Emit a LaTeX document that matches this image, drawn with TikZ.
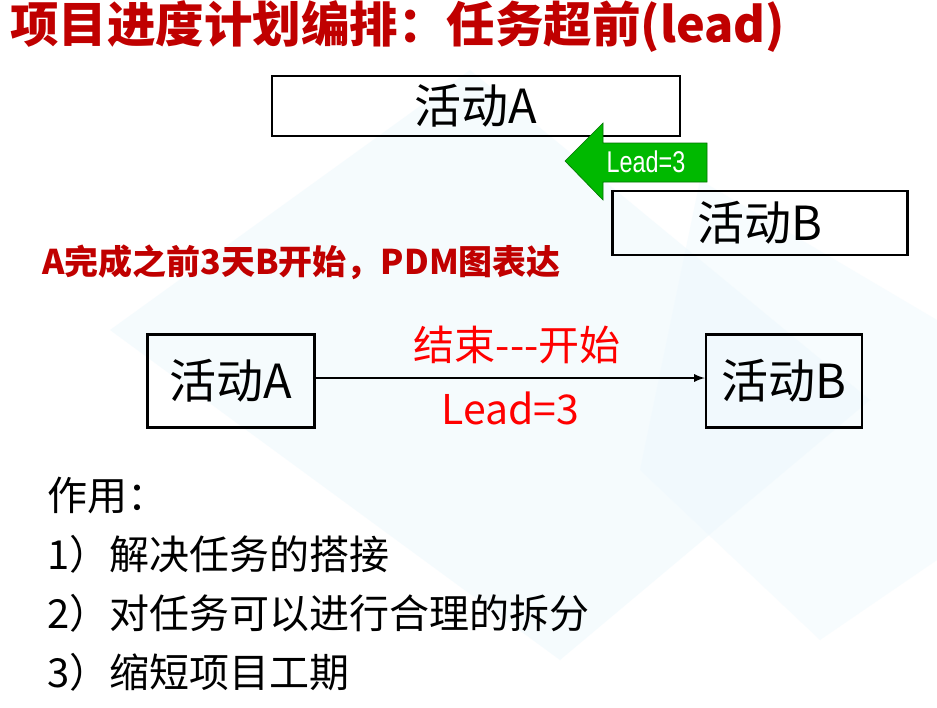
\documentclass[tikz,border=0pt]{standalone}
\usepackage{fontspec}
\setmainfont{Noto Sans CJK SC}
\newfontfamily\arialfont{Liberation Sans}
\usepackage{tikz}
\usetikzlibrary{positioning}

\definecolor{titlered}{RGB}{192,0,0}
\definecolor{leadgreen}{RGB}{0,185,0}
\definecolor{bgblue}{RGB}{236,248,253}

\begin{document}
\begin{tikzpicture}[
        x = 1pt,
        y = -1pt,
        box/.style = {
            draw,
            line width = 2.5pt,
            minimum width = #1,
            inner sep = 0pt,
            font = \fontsize{47}{54}\selectfont
        },
        box/.default = 160pt,
        title/.style = {
            anchor = west,
            inner sep = 0pt,
            text = titlered,
            font = \fontsize{#1}{#1}\selectfont\bfseries
        },
        item/.style = {
            anchor = west,
            inner sep = 0pt,
            font = \fontsize{40}{46}\selectfont
        },
        redtext/.style = {
            text = red,
            inner sep = 0pt,
            font = \fontsize{41}{48}\selectfont
        }
    ]
    % page and faint background
    \fill[white] (0,0) rectangle (937,707);
    \fill[bgblue, opacity=0.5] (470,70) -- (870,400) -- (560,660) -- (110,330) -- cycle;
    \fill[bgblue, opacity=0.4] (700,180) -- (937,320) -- (937,560) -- (820,640) -- (640,470) -- cycle;
    \useasboundingbox (0,0) rectangle (937,707);

    \node[title=48.5] (head) at (10,27) {项目进度计划编排：任务超前(lead)};

    % upper picture
    \node[box=408pt, minimum height=60pt] (topA) at (476,106) {活动A};
    \node[box=295pt, minimum height=64pt] (topB) at (760,223) {活动B};
    \fill[leadgreen, draw=green!45!black, line width=0.6pt]
        (565,161) -- (603,123) -- (603,143) -- (707,143) -- (707,182) -- (603,182) -- (603,200) -- cycle;
    \node[text=white, inner sep=0pt, font=\arialfont\fontsize{30}{30}\selectfont, xscale=0.78, transform shape] (lead) at (646,162) {Lead=3};

    \node[title=34] (pdm) at (42,262) {A完成之前3天B开始，PDM图表达};

    % PDM picture
    \node[box=167pt, minimum height=93pt] (A) at (231,381) {活动A};
    \node[box=156pt, minimum height=93pt] (B) at (784,381) {活动B};
    \draw[line width = 2.6pt, -latex] (A.east |- 0,378) -- node[redtext, xshift=7pt, yshift=33pt]{结束-{}-{}-开始} node[redtext, yshift=-30pt]{Lead=3} (B.west |- 0,378);

    % uses
    \node[item] (use) at (47,495) {作用：};
    \node[item] (use1) at (47,554) {1）解决任务的搭接};
    \node[item] (use2) at (47,613) {2）对任务可以进行合理的拆分};
    \node[item] (use3) at (47,672) {3）缩短项目工期};
\end{tikzpicture}
\end{document}
